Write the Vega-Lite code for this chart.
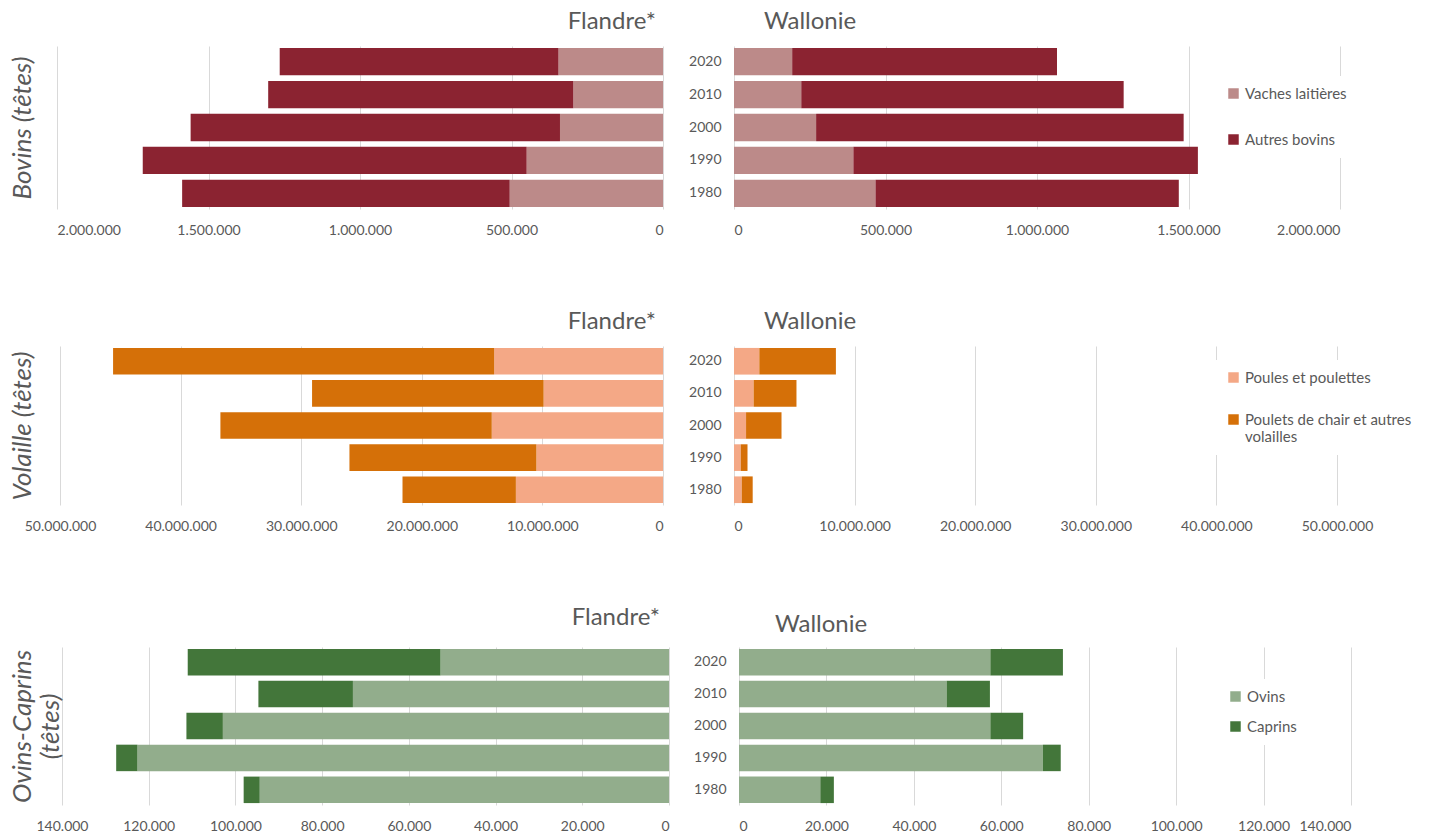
{
  "$schema": "https://vega.github.io/schema/vega-lite/v6.json",
  "background": "white",
  "padding": {"left": 8, "top": 10, "right": 5, "bottom": 5},
  "datasets": {
    "elevage": [
      {"groupe": "Bovins", "region": "Flandre", "annee": "2020", "categorie": "Vaches laitières", "valeur": 345000},
      {"groupe": "Bovins", "region": "Flandre", "annee": "2020", "categorie": "Autres bovins", "valeur": 920000},
      {"groupe": "Bovins", "region": "Flandre", "annee": "2010", "categorie": "Vaches laitières", "valeur": 296000},
      {"groupe": "Bovins", "region": "Flandre", "annee": "2010", "categorie": "Autres bovins", "valeur": 1007000},
      {"groupe": "Bovins", "region": "Flandre", "annee": "2000", "categorie": "Vaches laitières", "valeur": 340000},
      {"groupe": "Bovins", "region": "Flandre", "annee": "2000", "categorie": "Autres bovins", "valeur": 1219000},
      {"groupe": "Bovins", "region": "Flandre", "annee": "1990", "categorie": "Vaches laitières", "valeur": 450000},
      {"groupe": "Bovins", "region": "Flandre", "annee": "1990", "categorie": "Autres bovins", "valeur": 1267000},
      {"groupe": "Bovins", "region": "Flandre", "annee": "1980", "categorie": "Vaches laitières", "valeur": 506000},
      {"groupe": "Bovins", "region": "Flandre", "annee": "1980", "categorie": "Autres bovins", "valeur": 1081000},
      {"groupe": "Bovins", "region": "Wallonie", "annee": "2020", "categorie": "Vaches laitières", "valeur": 192000},
      {"groupe": "Bovins", "region": "Wallonie", "annee": "2020", "categorie": "Autres bovins", "valeur": 874000},
      {"groupe": "Bovins", "region": "Wallonie", "annee": "2010", "categorie": "Vaches laitières", "valeur": 222000},
      {"groupe": "Bovins", "region": "Wallonie", "annee": "2010", "categorie": "Autres bovins", "valeur": 1064000},
      {"groupe": "Bovins", "region": "Wallonie", "annee": "2000", "categorie": "Vaches laitières", "valeur": 271000},
      {"groupe": "Bovins", "region": "Wallonie", "annee": "2000", "categorie": "Autres bovins", "valeur": 1213000},
      {"groupe": "Bovins", "region": "Wallonie", "annee": "1990", "categorie": "Vaches laitières", "valeur": 394000},
      {"groupe": "Bovins", "region": "Wallonie", "annee": "1990", "categorie": "Autres bovins", "valeur": 1137000},
      {"groupe": "Bovins", "region": "Wallonie", "annee": "1980", "categorie": "Vaches laitières", "valeur": 467000},
      {"groupe": "Bovins", "region": "Wallonie", "annee": "1980", "categorie": "Autres bovins", "valeur": 1001000},
      {"groupe": "Volaille", "region": "Flandre", "annee": "2020", "categorie": "Poules et poulettes", "valeur": 14000000},
      {"groupe": "Volaille", "region": "Flandre", "annee": "2020", "categorie": "Poulets de chair et autres volailles", "valeur": 31600000},
      {"groupe": "Volaille", "region": "Flandre", "annee": "2010", "categorie": "Poules et poulettes", "valeur": 9900000},
      {"groupe": "Volaille", "region": "Flandre", "annee": "2010", "categorie": "Poulets de chair et autres volailles", "valeur": 19200000},
      {"groupe": "Volaille", "region": "Flandre", "annee": "2000", "categorie": "Poules et poulettes", "valeur": 14200000},
      {"groupe": "Volaille", "region": "Flandre", "annee": "2000", "categorie": "Poulets de chair et autres volailles", "valeur": 22500000},
      {"groupe": "Volaille", "region": "Flandre", "annee": "1990", "categorie": "Poules et poulettes", "valeur": 10500000},
      {"groupe": "Volaille", "region": "Flandre", "annee": "1990", "categorie": "Poulets de chair et autres volailles", "valeur": 15500000},
      {"groupe": "Volaille", "region": "Flandre", "annee": "1980", "categorie": "Poules et poulettes", "valeur": 12200000},
      {"groupe": "Volaille", "region": "Flandre", "annee": "1980", "categorie": "Poulets de chair et autres volailles", "valeur": 9400000},
      {"groupe": "Volaille", "region": "Wallonie", "annee": "2020", "categorie": "Poules et poulettes", "valeur": 2100000},
      {"groupe": "Volaille", "region": "Wallonie", "annee": "2020", "categorie": "Poulets de chair et autres volailles", "valeur": 6350000},
      {"groupe": "Volaille", "region": "Wallonie", "annee": "2010", "categorie": "Poules et poulettes", "valeur": 1630000},
      {"groupe": "Volaille", "region": "Wallonie", "annee": "2010", "categorie": "Poulets de chair et autres volailles", "valeur": 3550000},
      {"groupe": "Volaille", "region": "Wallonie", "annee": "2000", "categorie": "Poules et poulettes", "valeur": 1000000},
      {"groupe": "Volaille", "region": "Wallonie", "annee": "2000", "categorie": "Poulets de chair et autres volailles", "valeur": 2940000},
      {"groupe": "Volaille", "region": "Wallonie", "annee": "1990", "categorie": "Poules et poulettes", "valeur": 560000},
      {"groupe": "Volaille", "region": "Wallonie", "annee": "1990", "categorie": "Poulets de chair et autres volailles", "valeur": 560000},
      {"groupe": "Volaille", "region": "Wallonie", "annee": "1980", "categorie": "Poules et poulettes", "valeur": 640000},
      {"groupe": "Volaille", "region": "Wallonie", "annee": "1980", "categorie": "Poulets de chair et autres volailles", "valeur": 910000},
      {"groupe": "Ovins", "region": "Flandre", "annee": "2020", "categorie": "Ovins", "valeur": 52700},
      {"groupe": "Ovins", "region": "Flandre", "annee": "2020", "categorie": "Caprins", "valeur": 58300},
      {"groupe": "Ovins", "region": "Flandre", "annee": "2010", "categorie": "Ovins", "valeur": 72900},
      {"groupe": "Ovins", "region": "Flandre", "annee": "2010", "categorie": "Caprins", "valeur": 21800},
      {"groupe": "Ovins", "region": "Flandre", "annee": "2000", "categorie": "Ovins", "valeur": 102900},
      {"groupe": "Ovins", "region": "Flandre", "annee": "2000", "categorie": "Caprins", "valeur": 8400},
      {"groupe": "Ovins", "region": "Flandre", "annee": "1990", "categorie": "Ovins", "valeur": 122600},
      {"groupe": "Ovins", "region": "Flandre", "annee": "1990", "categorie": "Caprins", "valeur": 4900},
      {"groupe": "Ovins", "region": "Flandre", "annee": "1980", "categorie": "Ovins", "valeur": 94400},
      {"groupe": "Ovins", "region": "Flandre", "annee": "1980", "categorie": "Caprins", "valeur": 3700},
      {"groupe": "Ovins", "region": "Wallonie", "annee": "2020", "categorie": "Ovins", "valeur": 57500},
      {"groupe": "Ovins", "region": "Wallonie", "annee": "2020", "categorie": "Caprins", "valeur": 16600},
      {"groupe": "Ovins", "region": "Wallonie", "annee": "2010", "categorie": "Ovins", "valeur": 47500},
      {"groupe": "Ovins", "region": "Wallonie", "annee": "2010", "categorie": "Caprins", "valeur": 9900},
      {"groupe": "Ovins", "region": "Wallonie", "annee": "2000", "categorie": "Ovins", "valeur": 57500},
      {"groupe": "Ovins", "region": "Wallonie", "annee": "2000", "categorie": "Caprins", "valeur": 7500},
      {"groupe": "Ovins", "region": "Wallonie", "annee": "1990", "categorie": "Ovins", "valeur": 69500},
      {"groupe": "Ovins", "region": "Wallonie", "annee": "1990", "categorie": "Caprins", "valeur": 4100},
      {"groupe": "Ovins", "region": "Wallonie", "annee": "1980", "categorie": "Ovins", "valeur": 18600},
      {"groupe": "Ovins", "region": "Wallonie", "annee": "1980", "categorie": "Caprins", "valeur": 3100}
    ]
  },
  "data": {"name": "elevage"},
  "spacing": 73,
  "resolve": {"scale": {"color": "independent"}, "legend": {"color": "independent"}},
  "vconcat": [
    {
      "bounds": "flush",
      "spacing": 71,
      "resolve": {"scale": {"color": "independent"}, "legend": {"color": "independent"}},
      "hconcat": [
        {
          "title": {"text": "Flandre*", "anchor": "end", "frame": "group", "dx": -7},
          "width": 606, "height": 163,
          "transform": [{"filter": "datum.groupe === 'Bovins' && datum.region === 'Flandre'"}],
          "mark": {"type": "bar"},
          "encoding": {
            "y": {"field": "annee", "type": "ordinal", "sort": "descending", "scale": {"paddingInner": 0.17, "paddingOuter": 0.06},
                  "axis": {"labels": false, "title": "Bovins (têtes)", "titleFontSize": 26, "titleFontStyle": "italic", "titleFontWeight": "normal", "titleColor": "#595959", "titlePadding": 22}},
            "x": {"field": "valeur", "type": "quantitative", "stack": "zero", "scale": {"domain": [0, 2000000], "reverse": true, "nice": false},
                  "axis": {"values": [0, 500000, 1000000, 1500000, 2000000], "title": null, "format": ",d", "labelPadding": 14}},
            "color": {"field": "categorie", "type": "nominal", "scale": {"domain": ["Vaches laitières", "Autres bovins"], "range": ["#BC8A89", "#8B2331"]}, "legend": null},
            "order": {"field": "categorie", "sort": "descending"}
          }
        },
        {
          "title": {"text": "Wallonie", "anchor": "start", "frame": "group", "dx": 30},
          "width": 606, "height": 163,
          "transform": [{"filter": "datum.groupe === 'Bovins' && datum.region === 'Wallonie'"}],
          "mark": {"type": "bar"},
          "encoding": {
            "y": {"field": "annee", "type": "ordinal", "sort": "descending", "scale": {"paddingInner": 0.17, "paddingOuter": 0.06},
                  "axis": {"title": null, "labelPadding": 13}},
            "x": {"field": "valeur", "type": "quantitative", "stack": "zero", "scale": {"domain": [0, 2000000], "nice": false},
                  "axis": {"values": [0, 500000, 1000000, 1500000, 2000000], "title": null, "format": ",d", "labelPadding": 14}},
            "color": {"field": "categorie", "type": "nominal", "scale": {"domain": ["Vaches laitières", "Autres bovins"], "range": ["#BC8A89", "#8B2331"]},
                      "legend": {"orient": "none", "legendX": 482, "legendY": 30, "rowPadding": 30}},
            "order": {"field": "categorie", "sort": "descending"}
          }
        }
      ]
    },
    {
      "bounds": "flush",
      "spacing": 71,
      "resolve": {"scale": {"color": "independent"}, "legend": {"color": "independent"}},
      "hconcat": [
        {
          "title": {"text": "Flandre*", "anchor": "end", "frame": "group", "dx": -7},
          "width": 606, "height": 159,
          "transform": [{"filter": "datum.groupe === 'Volaille' && datum.region === 'Flandre'"}],
          "mark": {"type": "bar"},
          "encoding": {
            "y": {"field": "annee", "type": "ordinal", "sort": "descending", "scale": {"paddingInner": 0.17, "paddingOuter": 0.06},
                  "axis": {"labels": false, "title": "Volaille  (têtes)", "titleFontSize": 26, "titleFontStyle": "italic", "titleFontWeight": "normal", "titleColor": "#595959", "titlePadding": 22}},
            "x": {"field": "valeur", "type": "quantitative", "stack": "zero", "scale": {"domain": [0, 50250000], "reverse": true, "nice": false},
                  "axis": {"values": [0, 10000000, 20000000, 30000000, 40000000, 50000000], "title": null, "format": ",d", "labelPadding": 14}},
            "color": {"field": "categorie", "type": "nominal", "scale": {"domain": ["Poules et poulettes", "Poulets de chair et autres volailles"], "range": ["#F4A886", "#D57008"]}, "legend": null},
            "order": {"field": "categorie", "sort": "ascending"}
          }
        },
        {
          "title": {"text": "Wallonie", "anchor": "start", "frame": "group", "dx": 30},
          "width": 606, "height": 159,
          "transform": [{"filter": "datum.groupe === 'Volaille' && datum.region === 'Wallonie'"}],
          "mark": {"type": "bar"},
          "encoding": {
            "y": {"field": "annee", "type": "ordinal", "sort": "descending", "scale": {"paddingInner": 0.17, "paddingOuter": 0.06},
                  "axis": {"title": null, "labelPadding": 13}},
            "x": {"field": "valeur", "type": "quantitative", "stack": "zero", "scale": {"domain": [0, 50250000], "nice": false},
                  "axis": {"values": [0, 10000000, 20000000, 30000000, 40000000, 50000000], "title": null, "format": ",d", "labelPadding": 14}},
            "color": {"field": "categorie", "type": "nominal", "scale": {"domain": ["Poules et poulettes", "Poulets de chair et autres volailles"], "range": ["#F4A886", "#D57008"]},
                      "legend": {"orient": "none", "legendX": 482, "legendY": 14, "rowPadding": 26, "labelExpr": "datum.label == 'Poulets de chair et autres volailles' ? ['Poulets de chair et autres', 'volailles'] : datum.label"}},
            "order": {"field": "categorie", "sort": "ascending"}
          }
        }
      ]
    },
    {
      "bounds": "flush",
      "spacing": 70,
      "resolve": {"scale": {"color": "independent"}, "legend": {"color": "independent"}},
      "hconcat": [
        {
          "title": {"text": "Flandre*", "anchor": "end", "frame": "group", "dx": -9, "offset": 17},
          "width": 612, "height": 158,
          "transform": [{"filter": "datum.groupe === 'Ovins' && datum.region === 'Flandre'"}],
          "mark": {"type": "bar"},
          "encoding": {
            "y": {"field": "annee", "type": "ordinal", "sort": "descending", "scale": {"paddingInner": 0.17, "paddingOuter": 0.06},
                  "axis": {"labels": false, "title": ["Ovins-Caprins", "(têtes)"], "titleFontSize": 26, "titleFontStyle": "italic", "titleFontWeight": "normal", "titleColor": "#595959", "titlePadding": -6}},
            "x": {"field": "valeur", "type": "quantitative", "stack": "zero", "scale": {"domain": [0, 141150], "reverse": true, "nice": false},
                  "axis": {"values": [0, 20000, 40000, 60000, 80000, 100000, 120000, 140000], "title": null, "format": ",d", "labelPadding": 14}},
            "color": {"field": "categorie", "type": "nominal", "scale": {"domain": ["Ovins", "Caprins"], "range": ["#92AD8C", "#43763A"]}, "legend": null},
            "order": {"field": "categorie", "sort": "descending"}
          }
        },
        {
          "title": {"text": "Wallonie", "anchor": "start", "frame": "group", "dx": 36, "offset": 10},
          "width": 612, "height": 158,
          "transform": [{"filter": "datum.groupe === 'Ovins' && datum.region === 'Wallonie'"}],
          "mark": {"type": "bar"},
          "encoding": {
            "y": {"field": "annee", "type": "ordinal", "sort": "descending", "scale": {"paddingInner": 0.17, "paddingOuter": 0.06},
                  "axis": {"title": null, "labelPadding": 13}},
            "x": {"field": "valeur", "type": "quantitative", "stack": "zero", "scale": {"domain": [0, 140000], "nice": false},
                  "axis": {"values": [0, 20000, 40000, 60000, 80000, 100000, 120000, 140000], "title": null, "format": ",d", "labelPadding": 14}},
            "color": {"field": "categorie", "type": "nominal", "scale": {"domain": ["Ovins", "Caprins"], "range": ["#92AD8C", "#43763A"]},
                      "legend": {"orient": "none", "legendX": 479, "legendY": 32, "rowPadding": 14}},
            "order": {"field": "categorie", "sort": "descending"}
          }
        }
      ]
    }
  ],
  "config": {
    "font": "Lato",
    "view": {"stroke": null},
    "locale": {"number": {"decimal": ",", "thousands": ".", "grouping": [3], "currency": ["", " €"]}},
    "axis": {"labelColor": "#595959", "labelFontSize": 14, "gridColor": "#D9D9D9", "gridWidth": 1, "domain": false, "ticks": false},
    "axisY": {"grid": false},
    "title": {"fontSize": 24, "color": "#595959", "fontWeight": "normal", "offset": 12},
    "legend": {"title": null, "symbolType": "square", "symbolSize": 110, "symbolStrokeWidth": 0, "labelFontSize": 15, "labelColor": "#595959", "fillColor": "white", "padding": 10, "labelLimit": 300, "labelOffset": 4}
  }
}
